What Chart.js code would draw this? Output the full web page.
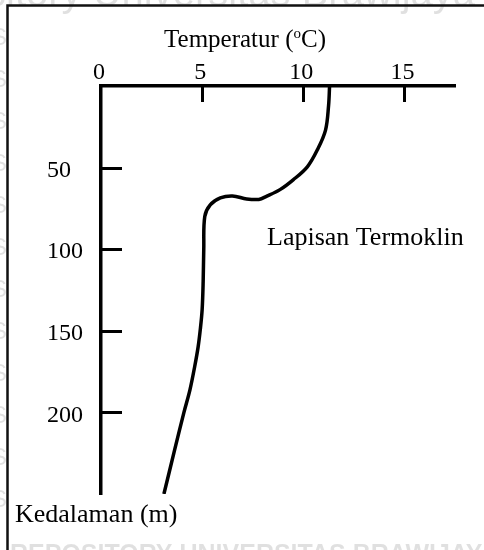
<!DOCTYPE html>
<html>
<head>
<meta charset="utf-8">
<script src="https://cdn.jsdelivr.net/npm/chart.js@4/dist/chart.umd.min.js"></script>
<style>
  html, body { margin: 0; padding: 0; background: #ffffff; }
  #wrap { width: 484px; height: 550px; position: relative; }
</style>
</head>
<body>
<div id="wrap"><canvas id="c" width="484" height="550"></canvas></div>
<script>
// ---- data ----
const depthM = [0, 12, 27, 39, 49.5, 57.5, 63.5, 67.5, 69.5, 69.2, 67.4, 68.6, 72.9, 80, 100, 120, 137, 149, 160, 172, 186, 200, 223, 250];
const temperatureC = [11.3, 11.25, 11.1, 10.7, 10.2, 9.5, 8.85, 8.2, 7.8, 7.2, 6.5, 5.9, 5.4, 5.13, 5.08, 5.05, 5.0, 4.91, 4.8, 4.63, 4.4, 4.1, 3.64, 3.11];
const xTickValues = [0, 5, 10, 15];
const yTickValues = [50, 100, 150, 200];
const xAxisMax = 17.5;
const yAxisMax = 250;
const titleParts = ['Temperatur (', 'o', 'C)'];
const layerLabel = 'Lapisan Termoklin';
const depthLabel = 'Kedalaman (m)';
const watermarkTop = 'sitory Universitas Brawijaya';
const watermarkBottom = 'REPOSITORY UNIVERSITAS BRAWIJAYA';

const SERIF = '"Liberation Serif", "DejaVu Serif", serif';

const decorPlugin = {
  id: 'decor',
  beforeDraw(chart) {
    const ctx = chart.ctx;
    ctx.save();
    // faint watermark texts
    ctx.fillStyle = 'rgba(0,0,0,0.12)';
    ctx.font = '40px "Liberation Sans", Arial, sans-serif';
    ctx.textBaseline = 'alphabetic';
    ctx.textAlign = 'left';
    ctx.fillText(watermarkTop, -14, 6);
    ctx.font = 'bold 25px "Liberation Sans", Arial, sans-serif';
    ctx.textBaseline = 'top';
    ctx.fillText(watermarkBottom, 10, 543);
    ctx.font = '24px "Liberation Sans", Arial, sans-serif';
    ctx.textBaseline = 'middle';
    for (let yy = 38; yy < 540; yy += 42) ctx.fillText('S', -9, yy);
    // frame
    ctx.strokeStyle = '#111';
    ctx.lineWidth = 2.5;
    ctx.beginPath();
    ctx.moveTo(7.5, 550);
    ctx.lineTo(7.5, 5.5);
    ctx.lineTo(484, 5.5);
    ctx.stroke();
    ctx.restore();
  },
  afterDraw(chart) {
    const ctx = chart.ctx;
    const xs = chart.scales.x, ys = chart.scales.y;
    const a = chart.chartArea;
    ctx.save();
    ctx.strokeStyle = '#000';
    ctx.lineWidth = 3;
    ctx.lineCap = 'butt';
    // inward tick marks
    xTickValues.filter(v => v > 0).forEach(v => {
      const px = Math.round(xs.getPixelForValue(v)) + 0.5;
      ctx.beginPath(); ctx.moveTo(px, a.top); ctx.lineTo(px, a.top + 16); ctx.stroke();
    });
    yTickValues.forEach(v => {
      const py = Math.round(ys.getPixelForValue(v)) + 0.5;
      ctx.beginPath(); ctx.moveTo(a.left, py); ctx.lineTo(a.left + 21, py); ctx.stroke();
    });
    // texts
    ctx.fillStyle = '#000';
    ctx.textBaseline = 'alphabetic';
    ctx.textAlign = 'left';
    const big = '25px ' + SERIF, small = '15px ' + SERIF;
    ctx.font = big;
    const w0 = ctx.measureText(titleParts[0]).width;
    const w2 = ctx.measureText(titleParts[2]).width;
    ctx.font = small;
    const w1 = ctx.measureText(titleParts[1]).width;
    let tx = 245 - (w0 + w1 + w2) / 2;
    ctx.font = big; ctx.fillText(titleParts[0], tx, 47); tx += w0;
    ctx.font = small; ctx.fillText(titleParts[1], tx, 38); tx += w1;
    ctx.font = big; ctx.fillText(titleParts[2], tx, 47);
    ctx.font = '26px ' + SERIF;
    ctx.fillText(layerLabel, 267, 245);
    ctx.fillText(depthLabel, 15, 522);
    ctx.restore();
  }
};

new Chart(document.getElementById('c'), {
  type: 'scatter',
  data: {
    datasets: [{
      data: depthM.map((d, i) => ({ x: temperatureC[i], y: d })),
      showLine: true,
      borderColor: '#000',
      borderWidth: 3.5,
      tension: 0.35,
      pointRadius: 0,
      pointHoverRadius: 0,
      fill: false
    }]
  },
  options: {
    responsive: false,
    animation: false,
    devicePixelRatio: 1,
    layout: { padding: { left: 47, top: 0, right: 29, bottom: 56 } },
    plugins: { legend: { display: false }, tooltip: { enabled: false }, title: { display: false } },
    scales: {
      x: {
        type: 'linear', position: 'top', min: 0, max: xAxisMax,
        afterBuildTicks: s => { s.ticks = xTickValues.map(v => ({ value: v })); },
        afterFit: s => { s.height = 86; },
        grid: { display: false },
        border: { display: true, color: '#000', width: 3.5 },
        ticks: { color: '#000', padding: -7, labelOffset: -2, font: { family: SERIF, size: 24, lineHeight: 1 }, maxRotation: 0 }
      },
      y: {
        type: 'linear', position: 'left', reverse: true, min: 0, max: yAxisMax,
        afterBuildTicks: s => { s.ticks = yTickValues.map(v => ({ value: v })); },
        afterFit: s => { s.width = 54; },
        grid: { display: false },
        border: { display: true, color: '#000', width: 3.5 },
        ticks: { color: '#000', crossAlign: 'far', padding: 0, labelOffset: 3, font: { family: SERIF, size: 24 } }
      }
    }
  },
  plugins: [decorPlugin]
});
</script>
</body>
</html>
